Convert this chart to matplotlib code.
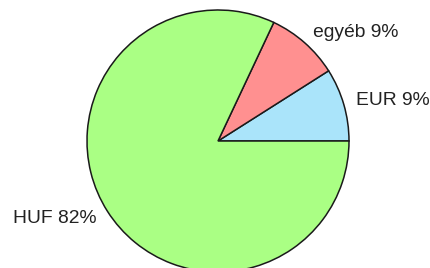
import matplotlib
matplotlib.use("Agg")
import matplotlib.pyplot as plt

# currency share (%)
categories = ["EUR", "egyéb", "HUF"]
shares = [9, 9, 82]
colors = ["#aae4fa", "#ff9090", "#aaff84"]

labels = ["{} {}%".format(c, v) for c, v in zip(categories, shares)]

fig = plt.figure(figsize=(4.30, 2.68), dpi=100)
ax = fig.add_axes([0, 0, 1, 1])

cx, cy = 218, 127
wedges, texts = ax.pie(shares, labels=labels, colors=colors, startangle=0,
                       counterclock=True, center=(cx, cy), radius=131,
                       labeldistance=1.1,
                       wedgeprops=dict(edgecolor="#1a1a1a", linewidth=1.1),
                       textprops=dict(fontsize=13.9, family="Liberation Sans",
                                      color="#222222"))
# alignment relative to pie centre (matplotlib uses x>0 of data coords)
for t in texts:
    x, y = t.get_position()
    t.set_ha("left" if x > cx else "right")
    t.set_va("center")

ax.set_xlim(0, 430)
ax.set_ylim(0, 268)
ax.set_aspect("equal")
ax.axis("off")

fig.savefig("out.png", dpi=100)
